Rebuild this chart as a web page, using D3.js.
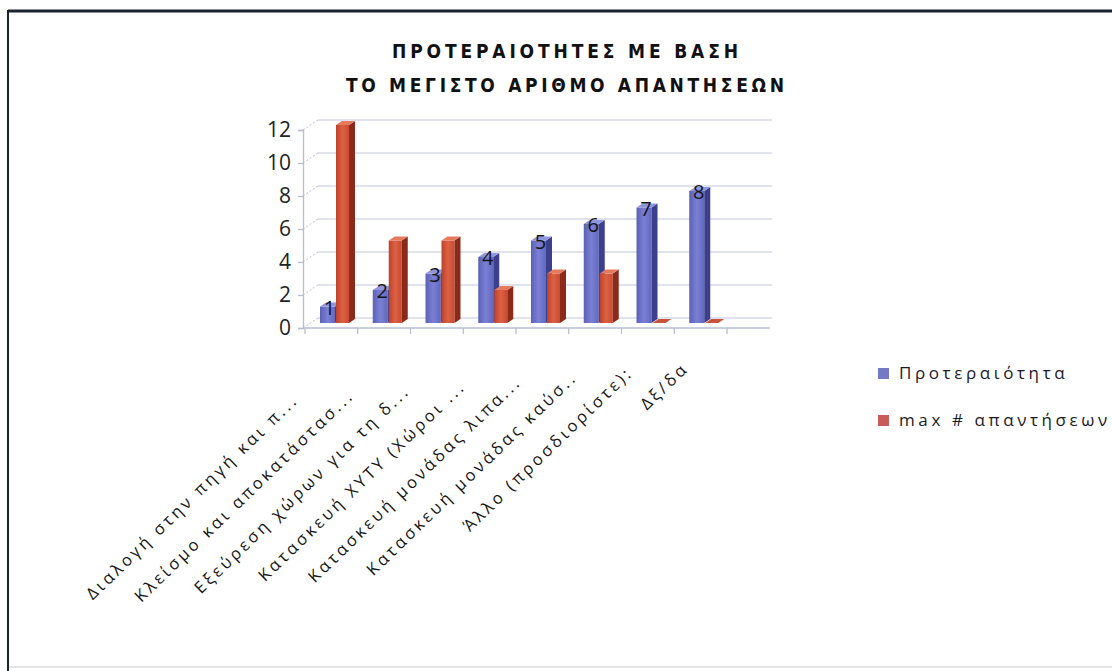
<!DOCTYPE html>
<html>
<head>
<meta charset="utf-8">
<script src="https://cdn.jsdelivr.net/npm/d3@7"></script>
<style>
  html, body { margin: 0; padding: 0; background: #ffffff; }
  svg { display: block; }
</style>
</head>
<body>
<script>
// ---------- data ----------
const titleLines = ["ΠΡΟΤΕΡΑΙΟΤΗΤΕΣ ΜΕ ΒΑΣΗ", "ΤΟ ΜΕΓΙΣΤΟ ΑΡΙΘΜΟ ΑΠΑΝΤΗΣΕΩΝ"];
const categories = [
  "Διαλογή στην πηγή και π...",
  "Κλείσμο και αποκατάστασ...",
  "Εξεύρεση χώρων για τη δ...",
  "Κατασκευή ΧΥΤΥ (Χώροι ...",
  "Κατασκευή μονάδας λιπα...",
  "Κατασκευή μονάδας καύσ..",
  "Άλλο (προσδιορίστε):",
  "Δξ/δα"
];
const priority = [1, 2, 3, 4, 5, 6, 7, 8];
const maxAnswers = [12, 5, 5, 2, 3, 3, 0, 0];
const yTicks = [0, 2, 4, 6, 8, 10, 12];
const seriesNames = ["Προτεραιότητα", "max # απαντήσεων"];

// ---------- layout ----------
const W = 1112, H = 671;
const svg = d3.select("body").append("svg").attr("width", W).attr("height", H);

// frame
svg.append("rect").attr("x", 0).attr("y", 0).attr("width", W).attr("height", H).attr("fill", "#ffffff");
svg.append("line").attr("x1", 8).attr("x2", W).attr("y1", 11).attr("y2", 11)
  .attr("stroke", "#1c2230").attr("stroke-width", 3);
svg.append("line").attr("x1", 8).attr("x2", 8).attr("y1", 10).attr("y2", H)
  .attr("stroke", "#1c2230").attr("stroke-width", 2);
svg.append("line").attr("x1", 9).attr("x2", W).attr("y1", 667).attr("y2", 667)
  .attr("stroke", "#e2e4e6").attr("stroke-width", 2);

// title
const titleY = [52, 86];
const titleLen = [346, 438];
svg.append("g").selectAll("text").data(titleLines).join("text")
  .attr("x", 565).attr("y", (d, i) => titleY[i])
  .attr("text-anchor", "middle").attr("dominant-baseline", "middle")
  .attr("font-family", "'DejaVu Sans Condensed', 'DejaVu Sans', sans-serif")
  .attr("font-stretch", "condensed")
  .attr("font-weight", "bold").attr("font-size", 19).attr("fill", "#111")
  .attr("textLength", (d, i) => titleLen[i]).attr("lengthAdjust", "spacing")
  .text(d => d);

// scales
const x = d3.scaleBand().domain(categories).range([305, 727]).paddingInner(0).paddingOuter(0);
const y = d3.scaleLinear().domain([0, 12]).range([328, 130]);

const backDx = 15, backDy = -10;
const gridColor = "#d6d9e8";

// back gridlines
const grid = svg.append("g");
grid.selectAll("line.g").data(yTicks).join("line")
  .attr("x1", 303 + backDx).attr("x2", 772)
  .attr("y1", d => y(d) + backDy).attr("y2", d => y(d) + backDy)
  .attr("stroke", gridColor).attr("stroke-width", 1.3);
grid.selectAll("line.d").data(yTicks).join("line")
  .attr("x1", 303).attr("x2", 303 + backDx)
  .attr("y1", d => y(d)).attr("y2", d => y(d) + backDy)
  .attr("stroke", "#b9bdd0").attr("stroke-width", 1).attr("stroke-dasharray", "2,2");

// y axis
const yAxisG = svg.append("g").attr("transform", "translate(303,0)")
  .call(d3.axisLeft(y).tickValues(yTicks).tickSize(5).tickPadding(7).tickFormat(d3.format("d")));
yAxisG.select(".domain").attr("stroke", "#b9bdd0").attr("stroke-width", 1.3);
yAxisG.selectAll(".tick line").attr("stroke", "#b9bdd0").attr("stroke-width", 1.3);
yAxisG.selectAll(".tick text")
  .attr("font-family", "'Open Sans', sans-serif").attr("font-size", 21).attr("fill", "#222");

// x axis
const xAxisG = svg.append("g").attr("transform", `translate(0,${y(0)})`)
  .call(d3.axisBottom(x).tickSize(0).tickFormat(""));
xAxisG.select(".domain").remove();
svg.append("line").attr("x1", 303).attr("x2", 770).attr("y1", y(0)).attr("y2", y(0))
  .attr("stroke", "#b9bdd0").attr("stroke-width", 1.3);
const tickXs = categories.map(c => x(c)).concat([x(categories[categories.length - 1]) + x.bandwidth()]);
svg.append("g").selectAll("line").data(tickXs).join("line")
  .attr("x1", d => d).attr("x2", d => d).attr("y1", y(0)).attr("y2", y(0) + 6)
  .attr("stroke", "#b9bdd0").attr("stroke-width", 1.3);

// gradients
const defs = svg.append("defs");
function grad(id, stops) {
  const g = defs.append("linearGradient").attr("id", id).attr("x1", 0).attr("x2", 1).attr("y1", 0).attr("y2", 0);
  stops.forEach((c, i) => g.append("stop").attr("offset", i / (stops.length - 1)).attr("stop-color", c));
}
grad("gBlue", ["#5a60b6", "#7a81d4", "#6168c0"]);
grad("gRed", ["#bd412b", "#dc6244", "#c94a31"]);

const styles = [
  { front: "url(#gBlue)", side: "#3b3f8c", top: "#9096dc", off: 15, w: 15 },
  { front: "url(#gRed)", side: "#8b2a1b", top: "#e67a5e", off: 31, w: 13 }
];
const dx = 6, dy = -4, lift = -5;

const bars = svg.append("g");
categories.forEach((c, i) => {
  [priority[i], maxAnswers[i]].forEach((v, s) => {
    const st = styles[s];
    const x0 = x(c) + st.off, x1 = x0 + st.w;
    const yb = y(0) + lift, yt = y(v) + lift;
    const g = bars.append("g");
    if (v > 0) {
      g.append("rect").attr("x", x0).attr("y", yt).attr("width", st.w).attr("height", yb - yt)
        .attr("fill", st.front);
      g.append("polygon").attr("points", [[x1, yt], [x1 + dx, yt + dy], [x1 + dx, yb + dy], [x1, yb]].join(" "))
        .attr("fill", st.side);
    }
    g.append("polygon").attr("points", [[x0, yt], [x0 + dx, yt + dy], [x1 + dx, yt + dy], [x1, yt]].join(" "))
      .attr("fill", v > 0 ? st.top : "#c9533b");
  });
});

// data labels
svg.append("g").selectAll("text").data(priority).join("text")
  .attr("x", (d, i) => x(categories[i]) + styles[0].off + styles[0].w / 2 + 2)
  .attr("y", d => y(d) + lift + 3)
  .attr("text-anchor", "middle").attr("dominant-baseline", "middle")
  .attr("font-family", "'Open Sans', sans-serif").attr("font-size", 20).attr("fill", "#151515")
  .text(d => d);

// category labels (rotated)
svg.append("g").selectAll("text").data(categories).join("text")
  .attr("transform", (d, i) => {
    const cx = x(d) + x.bandwidth() / 2 - 32 + i * 3;
    const cy = 401 - i * 4.5;
    return `translate(${cx},${cy}) rotate(-44)`;
  })
  .attr("text-anchor", "end")
  .attr("font-family", "'Open Sans', sans-serif").attr("font-size", 16.5)
  .attr("letter-spacing", 3.2).attr("fill", "#151515")
  .text(d => d);

// legend
const legend = svg.append("g");
const legColors = ["#7479c6", "#c75c58"];
const legY = [374, 421];
seriesNames.forEach((n, i) => {
  legend.append("rect").attr("x", 878).attr("y", legY[i] - 6).attr("width", 11).attr("height", 11)
    .attr("fill", legColors[i]);
  legend.append("text").attr("x", 899).attr("y", legY[i]).attr("dominant-baseline", "middle")
    .attr("font-family", "'Open Sans', sans-serif").attr("font-size", 17)
    .attr("letter-spacing", 3.6).attr("fill", "#1a1a2a")
    .text(n);
});
</script>
</body>
</html>
